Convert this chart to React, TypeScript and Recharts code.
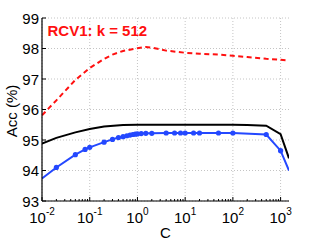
import React from 'react';
import { LineChart, Line, XAxis, YAxis, CartesianGrid } from 'recharts';

const FONT = '"Liberation Sans", Arial, Helvetica, sans-serif';

// Data
const cBlue = [0.01, 0.02, 0.05, 0.08, 0.1, 0.2, 0.3, 0.4, 0.5, 0.6, 0.7, 0.8, 0.9, 1, 1.2, 1.5, 2, 4, 6, 8, 10, 15, 20, 50, 100, 500, 1000, 1500];
const accBlue = [93.74, 94.1, 94.52, 94.69, 94.76, 94.93, 95.02, 95.08, 95.11, 95.14, 95.16, 95.18, 95.19, 95.2, 95.21, 95.22, 95.22, 95.23, 95.23, 95.23, 95.23, 95.23, 95.23, 95.23, 95.23, 95.18, 94.65, 94.0];

const cBlack = [0.01, 0.02, 0.05, 0.1, 0.2, 0.5, 1, 2, 5, 10, 20, 50, 100, 200, 500, 1000, 1500];
const accBlack = [94.88, 95.07, 95.25, 95.36, 95.44, 95.49, 95.5, 95.5, 95.5, 95.5, 95.5, 95.5, 95.5, 95.49, 95.47, 95.19, 94.4];

const cRed = [0.01, 0.02, 0.05, 0.1, 0.2, 0.3, 0.5, 1, 1.5, 2, 4, 10, 20, 50, 100, 200, 500, 1000, 1500];
const accRed = [95.81, 96.3, 96.97, 97.36, 97.66, 97.8, 97.92, 98.01, 98.05, 98.03, 97.93, 97.86, 97.83, 97.8, 97.76, 97.72, 97.66, 97.63, 97.61];

// Ticks
const xMajor = [0.01, 0.1, 1, 10, 100, 1000];
const xExp = ['-2', '-1', '0', '1', '2', '3'];
const xMinor = [
  0.02, 0.03, 0.04, 0.05, 0.06, 0.07, 0.08, 0.09,
  0.2, 0.3, 0.4, 0.5, 0.6, 0.7, 0.8, 0.9,
  2, 3, 4, 5, 6, 7, 8, 9,
  20, 30, 40, 50, 60, 70, 80, 90,
  200, 300, 400, 500, 600, 700, 800, 900,
];
const xAllTicks = [...xMajor, ...xMinor].sort((a, b) => a - b);
const yTicks = [93, 94, 95, 96, 97, 98, 99];

const blueData = cBlue.map((c, i) => ({ c, acc: accBlue[i] }));
const blackData = cBlack.map((c, i) => ({ c, acc: accBlack[i] }));
const redData = cRed.map((c, i) => ({ c, acc: accRed[i] }));

const GRAY = '#8a8a8a';

const BottomTick = (props: any) => {
  const { x, y, payload } = props;
  const i = xMajor.indexOf(payload.value);
  const major = i >= 0;
  return (
    <g>
      <line x1={x} x2={x} y1={y} y2={y - (major ? 4 : 2)} stroke="#000" strokeWidth={1} />
      {major && (
        <text x={x} y={y + 22} textAnchor="middle" fontSize={15} fontFamily={FONT} fill="#000">
          10
          <tspan dy={-8} fontSize={10}>{xExp[i]}</tspan>
        </text>
      )}
    </g>
  );
};

const TopTick = (props: any) => {
  const { x, y, payload } = props;
  const major = xMajor.indexOf(payload.value) >= 0;
  return <line x1={x} x2={x} y1={y} y2={y + (major ? 4 : 2)} stroke={GRAY} strokeWidth={1} />;
};

const LeftTick = (props: any) => {
  const { x, y, payload } = props;
  return (
    <g>
      <line x1={x} x2={x + 4} y1={y} y2={y} stroke="#000" strokeWidth={1} />
      <text x={x - 3} y={y + 5.5} textAnchor="end" fontSize={15} fontFamily={FONT} fill="#000">
        {payload.value}
      </text>
    </g>
  );
};

const RightTick = (props: any) => {
  const { x, y } = props;
  return <line x1={x} x2={x - 4} y1={y} y2={y} stroke={GRAY} strokeWidth={1} />;
};

const BlueDot = (props: any) => {
  const { cx, cy, index } = props;
  if (index === 0 || index === cBlue.length - 1) return <g key={`d${index}`} />;
  return <circle key={`d${index}`} cx={cx} cy={cy} r={2.6} fill="#2448ff" stroke="none" />;
};

export default function App() {
  return (
    <div style={{ position: 'absolute', left: 0, top: 0, width: 319, height: 240, background: '#fff' }}>
      <LineChart width={319} height={240} margin={{ top: 18, right: 30, bottom: 0, left: 0 }}>
        <CartesianGrid
          xAxisId="b"
          yAxisId="l"
          verticalValues={xMajor}
          horizontalValues={yTicks}
          stroke="#c4c4c4"
          strokeDasharray="1 2"
        />
        <XAxis
          xAxisId="b"
          dataKey="c"
          type="number"
          scale="log"
          domain={[0.01, 1500]}
          allowDataOverflow
          ticks={xAllTicks}
          interval={0}
          orientation="bottom"
          height={39}
          tickSize={0}
          tickMargin={0}
          tickLine={false}
          axisLine={{ stroke: '#000', strokeWidth: 1.2 }}
          tick={<BottomTick />}
        />
        <XAxis
          xAxisId="t"
          dataKey="c"
          type="number"
          scale="log"
          domain={[0.01, 1500]}
          allowDataOverflow
          ticks={xAllTicks}
          interval={0}
          orientation="top"
          height={0}
          tickSize={0}
          tickMargin={0}
          tickLine={false}
          axisLine={{ stroke: GRAY, strokeWidth: 1.2 }}
          tick={<TopTick />}
        />
        <YAxis
          yAxisId="l"
          type="number"
          domain={[93, 99]}
          allowDataOverflow
          ticks={yTicks}
          interval={0}
          width={42}
          tickSize={0}
          tickMargin={0}
          tickLine={false}
          axisLine={{ stroke: '#000', strokeWidth: 1.2 }}
          tick={<LeftTick />}
        />
        <YAxis
          yAxisId="r"
          orientation="right"
          type="number"
          domain={[93, 99]}
          allowDataOverflow
          ticks={yTicks}
          interval={0}
          width={0}
          tickSize={0}
          tickMargin={0}
          tickLine={false}
          axisLine={{ stroke: GRAY, strokeWidth: 1.5 }}
          tick={<RightTick />}
        />
        <Line
          xAxisId="b"
          yAxisId="l"
          data={redData}
          dataKey="acc"
          type="linear"
          stroke="#ff1010"
          strokeWidth={2}
          strokeDasharray="5 3.5"
          dot={false}
          isAnimationActive={false}
        />
        <Line
          xAxisId="b"
          yAxisId="l"
          data={blackData}
          dataKey="acc"
          type="linear"
          stroke="#000"
          strokeWidth={2}
          dot={false}
          isAnimationActive={false}
        />
        <Line
          xAxisId="b"
          yAxisId="l"
          data={blueData}
          dataKey="acc"
          type="linear"
          stroke="#2448ff"
          strokeWidth={2}
          dot={<BlueDot />}
          isAnimationActive={false}
        />
      </LineChart>
      <svg width={319} height={240} style={{ position: 'absolute', left: 0, top: 0, pointerEvents: 'none' }}>
        <text x={47.5} y={35.7} fontSize={15} fontWeight="bold" fontFamily={FONT} fill="#ff1010">
          RCV1: k = 512
        </text>
        <text
          x={16.5}
          y={111}
          transform="rotate(-90 16.5 111)"
          textAnchor="middle"
          fontSize={15}
          fontFamily={FONT}
          fill="#000"
        >
          Acc (%)
        </text>
        <text x={165.5} y={238.3} textAnchor="middle" fontSize={15} fontFamily={FONT} fill="#000">
          C
        </text>
      </svg>
    </div>
  );
}
